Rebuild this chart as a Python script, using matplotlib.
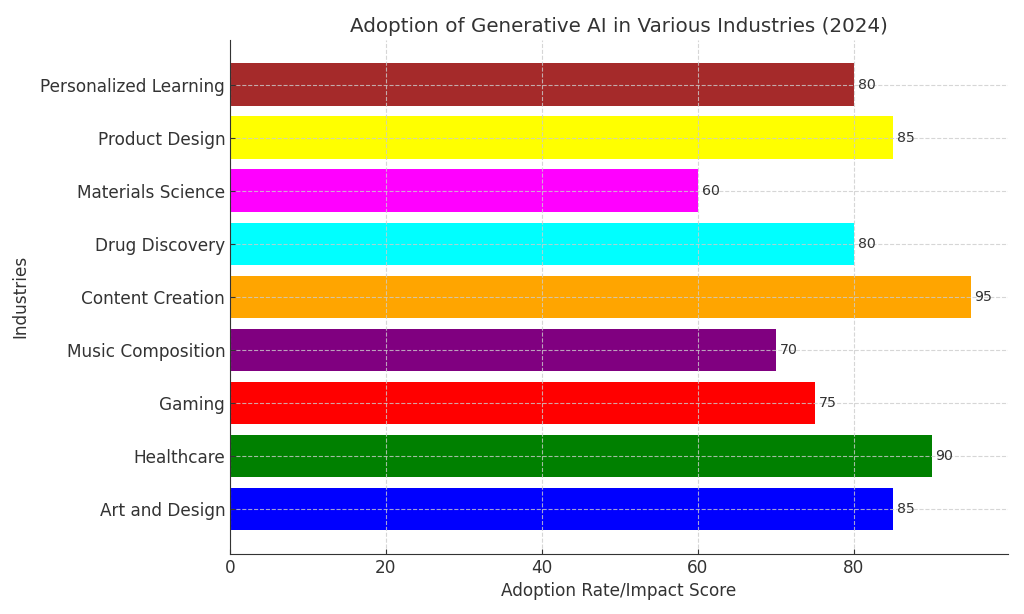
import matplotlib.pyplot as plt

# Data
industries = ['Art and Design', 'Healthcare', 'Gaming', 'Music Composition', 'Content Creation',
              'Drug Discovery', 'Materials Science', 'Product Design', 'Personalized Learning']
scores = [85, 90, 75, 70, 95, 80, 60, 85, 80]
colors = ['blue', 'green', 'red', 'purple', 'orange', 'cyan', 'magenta', 'yellow', 'brown']

text_color = '#333333'
plt.rcParams['text.color'] = text_color
plt.rcParams['axes.labelcolor'] = text_color
plt.rcParams['xtick.color'] = text_color
plt.rcParams['ytick.color'] = text_color

fig, ax = plt.subplots(figsize=(10.24, 6.14), dpi=100)
fig.subplots_adjust(left=0.2246, right=0.984, top=0.935, bottom=0.098)

bars = ax.barh(industries, scores, color=colors)

# Etiquetas de valor
for bar, val in zip(bars, scores):
    ax.text(bar.get_width() + 0.5, bar.get_y() + bar.get_height() / 2, str(val),
            va='center', ha='left', fontsize=10.2, color=text_color)

ax.set_title('Adoption of Generative AI in Various Industries (2024)', fontsize=14.3, color=text_color)
ax.set_xlabel('Adoption Rate/Impact Score', fontsize=12.2)
ax.set_ylabel('Industries', fontsize=12.2, labelpad=8)
ax.tick_params(axis='both', direction='in', labelsize=12.2)
ax.grid(True, linestyle='--', color='#cccccc', linewidth=0.8, alpha=0.8)
ax.spines['top'].set_visible(False)
ax.spines['right'].set_visible(False)
ax.spines['left'].set_color(text_color)
ax.spines['bottom'].set_color(text_color)

plt.savefig('out.png', dpi=100)
